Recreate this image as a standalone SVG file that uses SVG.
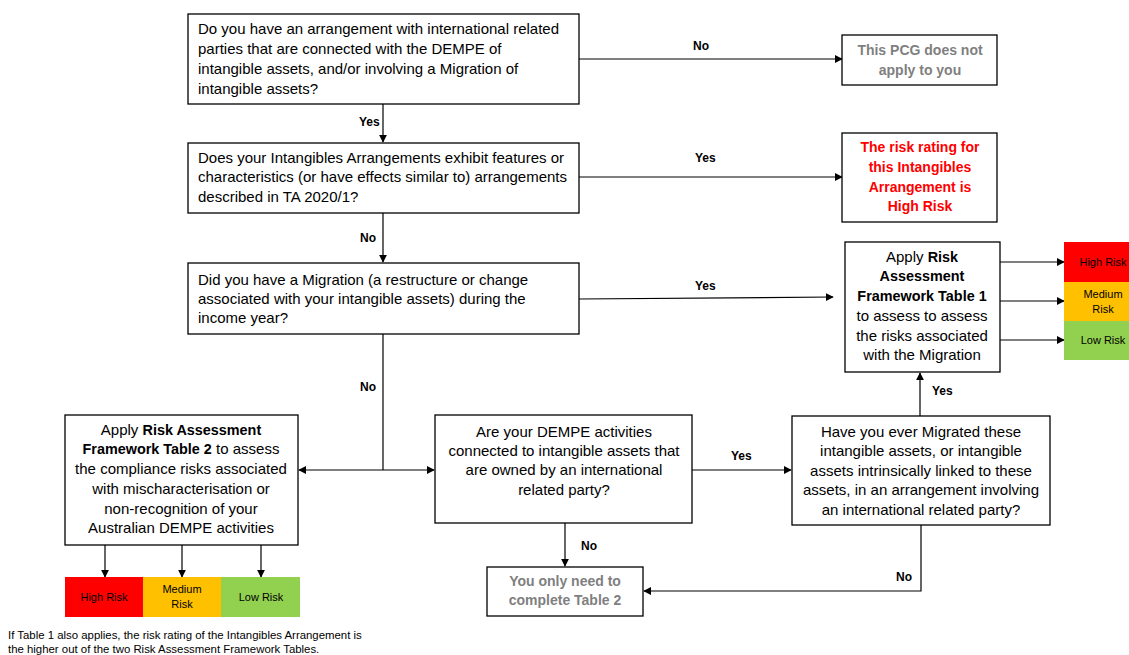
<svg xmlns="http://www.w3.org/2000/svg" width="1129" height="655" viewBox="0 0 1129 655">
<style>
.box{fill:#fff;stroke:#000;stroke-width:1.3}
.t{font-family:"Liberation Sans",Arial,sans-serif;font-size:15px;fill:#000}
.c{text-anchor:middle}
.b{font-weight:bold;font-size:14.4px}
.g{font-family:"Liberation Sans",Arial,sans-serif;font-size:14px;font-weight:bold;fill:#7f7f7f;text-anchor:middle}
.r{font-family:"Liberation Sans",Arial,sans-serif;font-size:14px;font-weight:bold;fill:#ff0000;text-anchor:middle}
.lbl{font-family:"Liberation Sans",Arial,sans-serif;font-size:12px;font-weight:bold;fill:#000}
.rk{font-family:"Liberation Sans",Arial,sans-serif;font-size:11px;fill:#000;text-anchor:middle}
.ft{font-family:"Liberation Sans",Arial,sans-serif;font-size:11.4px;fill:#000}
.ln{fill:none;stroke:#000;stroke-width:1.2}
.arr{marker-end:url(#ah)}
</style>
<defs>
<marker id="ah" viewBox="0 0 10 10" refX="9" refY="5" markerWidth="8" markerHeight="8" markerUnits="userSpaceOnUse" orient="auto">
<path d="M0,0 L10,5 L0,10 z" fill="#000"/>
</marker>
</defs>
<rect width="1129" height="655" fill="#fff"/>

<g id="connectors">
<path class="ln arr" d="M383,104 V142"/>
<path class="ln arr" d="M383,213 V262"/>
<path class="ln" d="M383,334 V470"/>
<path class="ln arr" d="M383,470 H299"/>
<path class="ln arr" d="M383,470 H434"/>
<path class="ln arr" d="M579,59 H842"/>
<path class="ln arr" d="M579,177 H842"/>
<path class="ln arr" d="M579,299 L833,297"/>
<path class="ln arr" d="M692,470 H791"/>
<path class="ln arr" d="M920,416 L920,373"/>
<path class="ln arr" d="M1000,262 H1064"/>
<path class="ln arr" d="M1000,301 H1064"/>
<path class="ln arr" d="M1000,340 H1064"/>
<path class="ln arr" d="M565,523 V566"/>
<path class="ln arr" d="M921,525 V591 H644"/>
<path class="ln arr" d="M105,525 V577"/>
<path class="ln arr" d="M182,545 V577"/>
<path class="ln arr" d="M261,525 V577"/>
<text class="lbl" x="359" y="126">Yes</text>
<text class="lbl" x="360" y="242">No</text>
<text class="lbl" x="360" y="391">No</text>
<text class="lbl" x="693" y="50">No</text>
<text class="lbl" x="695" y="162">Yes</text>
<text class="lbl" x="695" y="290">Yes</text>
<text class="lbl" x="731" y="460">Yes</text>
<text class="lbl" x="932" y="395">Yes</text>
<text class="lbl" x="581" y="550">No</text>
<text class="lbl" x="896" y="581">No</text>
</g>

<g id="q1">
<rect class="box" x="188" y="14" width="391" height="90"/>
<text class="t" x="198" y="34">Do you have an arrangement with international related</text>
<text class="t" x="198" y="54">parties that are connected with the DEMPE of</text>
<text class="t" x="198" y="74">intangible assets, and/or involving a Migration of</text>
<text class="t" x="198" y="94">intangible assets?</text>
</g>

<g id="pcg">
<rect class="box" x="842" y="35" width="155" height="50"/>
<text class="g" x="920" y="55">This PCG does not</text>
<text class="g" x="920" y="75">apply to you</text>
</g>

<g id="q2">
<rect class="box" x="188" y="143" width="391" height="70"/>
<text class="t" x="198" y="163">Does your Intangibles Arrangements exhibit features or</text>
<text class="t" x="198" y="182">characteristics (or have effects similar to) arrangements</text>
<text class="t" x="198" y="202">described in TA 2020/1?</text>
</g>

<g id="highrisk">
<rect class="box" x="842" y="133" width="155" height="89"/>
<text class="r" x="920" y="152">The risk rating for</text>
<text class="r" x="920" y="172">this Intangibles</text>
<text class="r" x="920" y="192">Arrangement is</text>
<text class="r" x="920" y="211">High Risk</text>
</g>

<g id="q3">
<rect class="box" x="188" y="263" width="391" height="71"/>
<text class="t" x="198" y="285">Did you have a Migration (a restructure or change</text>
<text class="t" x="198" y="304">associated with your intangible assets) during the</text>
<text class="t" x="198" y="323">income year?</text>
</g>

<g id="table1">
<rect class="box" x="845" y="242" width="155" height="130"/>
<text class="t c" x="922" y="262">Apply <tspan class="b">Risk</tspan></text>
<text class="t c b" x="922" y="281">Assessment</text>
<text class="t c b" x="922" y="301">Framework Table 1</text>
<text class="t c" x="922" y="321">to assess to assess</text>
<text class="t c" x="922" y="341">the risks associated</text>
<text class="t c" x="922" y="360">with the Migration</text>
</g>

<g id="risk1">
<rect x="1064" y="242" width="65" height="40" fill="#ff0000"/>
<rect x="1064" y="282" width="65" height="39" fill="#ffc000"/>
<rect x="1064" y="321" width="65" height="39" fill="#92d050"/>
<text class="rk" x="1103" y="266">High Risk</text>
<text class="rk" x="1103" y="298">Medium</text>
<text class="rk" x="1103" y="313">Risk</text>
<text class="rk" x="1103" y="344">Low Risk</text>
</g>

<g id="table2">
<rect class="box" x="65" y="415" width="233" height="130"/>
<text class="t c" x="181" y="435">Apply <tspan class="b">Risk Assessment</tspan></text>
<text class="t c" x="181" y="454"><tspan class="b">Framework Table 2</tspan> to assess</text>
<text class="t c" x="181" y="474">the compliance risks associated</text>
<text class="t c" x="181" y="494">with mischaracterisation or</text>
<text class="t c" x="181" y="514">non-recognition of your</text>
<text class="t c" x="181" y="533">Australian DEMPE activities</text>
</g>

<g id="risk2">
<rect x="65" y="577" width="78" height="40" fill="#ff0000"/>
<rect x="143" y="577" width="78" height="40" fill="#ffc000"/>
<rect x="221" y="577" width="79" height="40" fill="#92d050"/>
<text class="rk" x="104" y="601">High Risk</text>
<text class="rk" x="182" y="593">Medium</text>
<text class="rk" x="182" y="608">Risk</text>
<text class="rk" x="261" y="601">Low Risk</text>
</g>

<g id="q4">
<rect class="box" x="435" y="415" width="257" height="108"/>
<text class="t c" x="564" y="437">Are your DEMPE activities</text>
<text class="t c" x="564" y="456">connected to intangible assets that</text>
<text class="t c" x="564" y="475">are owned by an international</text>
<text class="t c" x="564" y="495">related party?</text>
</g>

<g id="q5">
<rect class="box" x="792" y="416" width="258" height="109"/>
<text class="t c" x="921" y="437">Have you ever Migrated these</text>
<text class="t c" x="921" y="456">intangible assets, or intangible</text>
<text class="t c" x="921" y="476">assets intrinsically linked to these</text>
<text class="t c" x="921" y="495">assets,  in an arrangement involving</text>
<text class="t c" x="921" y="515">an international related party?</text>
</g>

<g id="table2only">
<rect class="box" x="487" y="567" width="156" height="49"/>
<text class="g" x="565" y="586">You only need to</text>
<text class="g" x="565" y="605">complete Table 2</text>
</g>

<g id="footnote">
<text class="ft" x="8" y="639">If Table 1 also applies, the risk rating of the Intangibles Arrangement is</text>
<text class="ft" x="8" y="653">the higher out of the two Risk Assessment Framework Tables.</text>
</g>
</svg>
